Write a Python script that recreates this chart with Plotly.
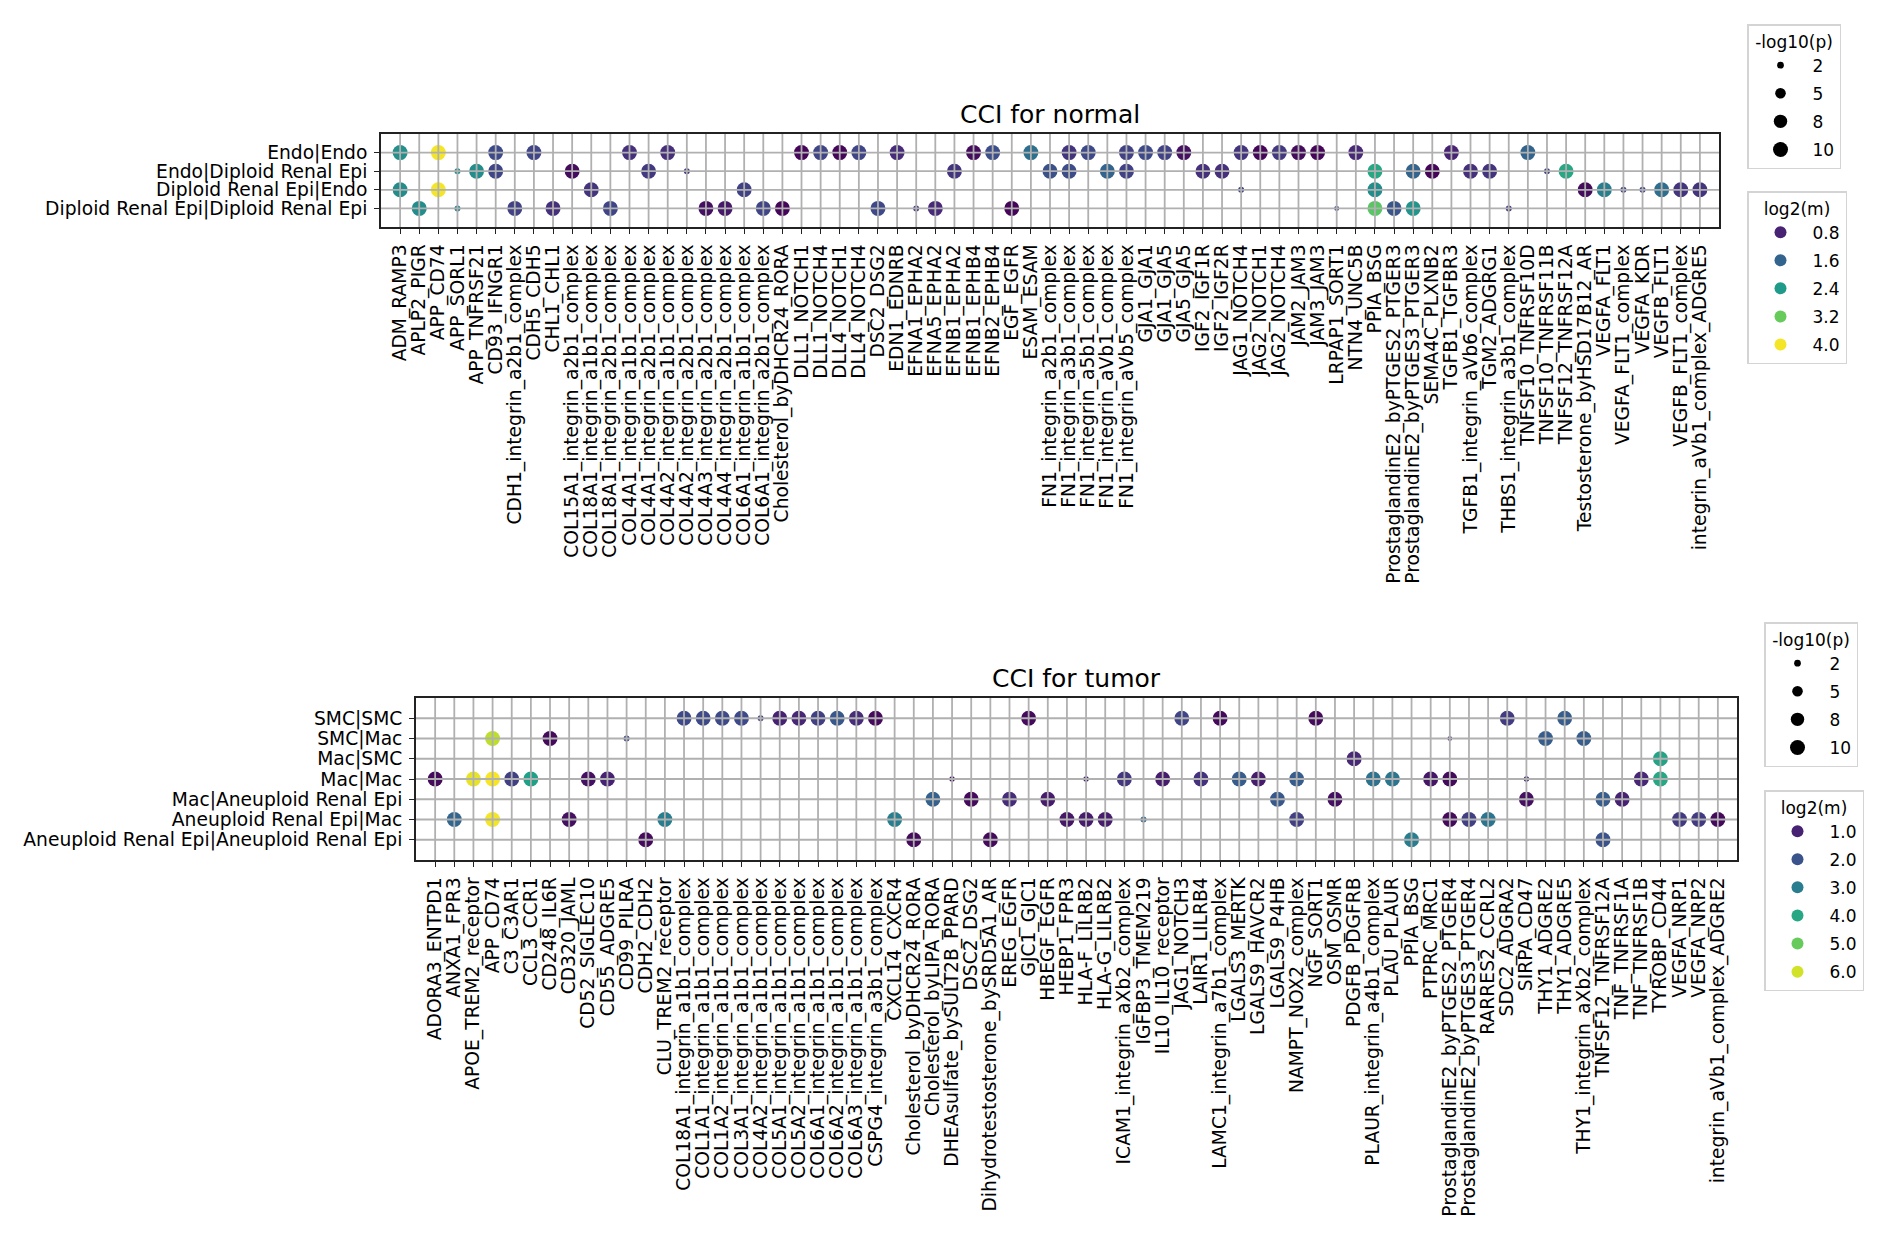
import math
import plotly.graph_objects as go
from plotly.colors import sample_colorscale

# ---------------- normal ----------------
normal_pairs = ["Endo|Endo", "Endo|Diploid Renal Epi", "Diploid Renal Epi|Endo",
                "Diploid Renal Epi|Diploid Renal Epi"]
normal_lr = ["ADM_RAMP3", "APLP2_PIGR", "APP_CD74", "APP_SORL1", "APP_TNFRSF21", "CD93_IFNGR1",
             "CDH1_integrin_a2b1_complex", "CDH5_CDH5", "CHL1_CHL1", "COL15A1_integrin_a2b1_complex",
             "COL18A1_integrin_a1b1_complex", "COL18A1_integrin_a2b1_complex", "COL4A1_integrin_a1b1_complex",
             "COL4A1_integrin_a2b1_complex", "COL4A2_integrin_a1b1_complex", "COL4A2_integrin_a2b1_complex",
             "COL4A3_integrin_a2b1_complex", "COL4A4_integrin_a2b1_complex", "COL6A1_integrin_a1b1_complex",
             "COL6A1_integrin_a2b1_complex", "Cholesterol_byDHCR24_RORA", "DLL1_NOTCH1", "DLL1_NOTCH4",
             "DLL4_NOTCH1", "DLL4_NOTCH4", "DSC2_DSG2", "EDN1_EDNRB", "EFNA1_EPHA2", "EFNA5_EPHA2",
             "EFNB1_EPHA2", "EFNB1_EPHB4", "EFNB2_EPHB4", "EGF_EGFR", "ESAM_ESAM",
             "FN1_integrin_a2b1_complex", "FN1_integrin_a3b1_complex", "FN1_integrin_a5b1_complex",
             "FN1_integrin_aVb1_complex", "FN1_integrin_aVb5_complex", "GJA1_GJA1", "GJA1_GJA5", "GJA5_GJA5",
             "IGF2_IGF1R", "IGF2_IGF2R", "JAG1_NOTCH4", "JAG2_NOTCH1", "JAG2_NOTCH4", "JAM2_JAM3", "JAM3_JAM3",
             "LRPAP1_SORT1", "NTN4_UNC5B", "PPIA_BSG", "ProstaglandinE2_byPTGES2_PTGER3",
             "ProstaglandinE2_byPTGES3_PTGER3", "SEMA4C_PLXNB2", "TGFB1_TGFBR3", "TGFB1_integrin_aVb6_complex",
             "TGM2_ADGRG1", "THBS1_integrin_a3b1_complex", "TNFSF10_TNFRSF10D", "TNFSF10_TNFRSF11B",
             "TNFSF12_TNFRSF12A", "Testosterone_byHSD17B12_AR", "VEGFA_FLT1", "VEGFA_FLT1_complex",
             "VEGFA_KDR", "VEGFB_FLT1", "VEGFB_FLT1_complex", "integrin_aVb1_complex_ADGRE5"]

normal_x = [
    # Endo|Endo
    "ADM_RAMP3", "APP_CD74", "CD93_IFNGR1", "CDH5_CDH5", "COL4A1_integrin_a1b1_complex",
    "COL4A2_integrin_a1b1_complex", "DLL1_NOTCH1", "DLL1_NOTCH4", "DLL4_NOTCH1", "DLL4_NOTCH4",
    "EDN1_EDNRB", "EFNB1_EPHB4", "EFNB2_EPHB4", "ESAM_ESAM", "FN1_integrin_a3b1_complex",
    "FN1_integrin_a5b1_complex", "FN1_integrin_aVb5_complex", "GJA1_GJA1", "GJA1_GJA5", "GJA5_GJA5",
    "JAG1_NOTCH4", "JAG2_NOTCH1", "JAG2_NOTCH4", "JAM2_JAM3", "JAM3_JAM3", "NTN4_UNC5B",
    "TGFB1_TGFBR3", "TNFSF10_TNFRSF10D",
    # Endo|Diploid Renal Epi
    "APP_SORL1", "APP_TNFRSF21", "CD93_IFNGR1", "COL15A1_integrin_a2b1_complex",
    "COL4A1_integrin_a2b1_complex", "COL4A2_integrin_a2b1_complex", "EFNB1_EPHA2",
    "FN1_integrin_a2b1_complex", "FN1_integrin_a3b1_complex", "FN1_integrin_aVb1_complex",
    "FN1_integrin_aVb5_complex", "IGF2_IGF1R", "IGF2_IGF2R", "PPIA_BSG",
    "ProstaglandinE2_byPTGES3_PTGER3", "SEMA4C_PLXNB2", "TGFB1_integrin_aVb6_complex", "TGM2_ADGRG1",
    "TNFSF10_TNFRSF11B", "TNFSF12_TNFRSF12A",
    # Diploid Renal Epi|Endo
    "ADM_RAMP3", "APP_CD74", "COL18A1_integrin_a1b1_complex", "COL6A1_integrin_a1b1_complex",
    "JAG1_NOTCH4", "PPIA_BSG", "Testosterone_byHSD17B12_AR", "VEGFA_FLT1", "VEGFA_FLT1_complex",
    "VEGFA_KDR", "VEGFB_FLT1", "VEGFB_FLT1_complex", "integrin_aVb1_complex_ADGRE5",
    # Diploid Renal Epi|Diploid Renal Epi
    "APLP2_PIGR", "APP_SORL1", "CDH1_integrin_a2b1_complex", "CHL1_CHL1",
    "COL18A1_integrin_a2b1_complex", "COL4A3_integrin_a2b1_complex", "COL4A4_integrin_a2b1_complex",
    "COL6A1_integrin_a2b1_complex", "Cholesterol_byDHCR24_RORA", "DSC2_DSG2", "EFNA1_EPHA2",
    "EFNA5_EPHA2", "EGF_EGFR", "LRPAP1_SORT1", "PPIA_BSG", "ProstaglandinE2_byPTGES2_PTGER3",
    "ProstaglandinE2_byPTGES3_PTGER3", "THBS1_integrin_a3b1_complex",
]
normal_y = (["Endo|Endo"] * 28 + ["Endo|Diploid Renal Epi"] * 20 + ["Diploid Renal Epi|Endo"] * 13
            + ["Diploid Renal Epi|Diploid Renal Epi"] * 18)
normal_logp = [
    10, 10, 10, 10, 10, 10, 10, 10, 10, 10, 10, 10, 10, 10, 10, 10, 10, 10, 10, 10, 10, 10, 10, 10, 10, 10, 10, 10,
    1.6, 10, 10, 10, 10, 1.6, 10, 10, 10, 10, 10, 10, 10, 10, 10, 10, 10, 10, 1.6, 10,
    10, 10, 10, 10, 1.6, 10, 10, 10, 1.6, 1.6, 10, 10, 10,
    10, 1.6, 10, 10, 10, 10, 10, 10, 10, 10, 1.6, 10, 10, 1.1, 10, 10, 10, 1.6,
]
normal_log2m = [
    2.25, 4.0, 1.25, 1.2, 0.95, 0.95, 0.5, 1.2, 0.5, 1.2, 0.9, 0.55, 1.3, 1.75, 1.0, 1.25, 1.15, 1.25,
    1.15, 0.6, 1.0, 0.5, 1.05, 0.55, 0.5, 0.85, 0.8, 1.6,
    2.2, 2.2, 1.2, 0.55, 1.05, 1.1, 1.0, 1.35, 1.3, 1.6, 1.15, 0.95, 0.95, 2.6, 1.6, 0.5, 0.95, 1.0,
    1.2, 2.6,
    2.2, 4.0, 1.0, 1.15, 1.2, 2.2, 0.55, 2.0, 1.2, 1.2, 1.75, 1.0, 1.0,
    2.2, 2.0, 1.15, 0.95, 1.2, 0.6, 0.7, 1.2, 0.5, 1.25, 1.1, 0.85, 0.5, 1.2, 3.1, 1.4, 2.3, 1.0,
]

# ---------------- tumor ----------------
tumor_pairs = ["SMC|SMC", "SMC|Mac", "Mac|SMC", "Mac|Mac", "Mac|Aneuploid Renal Epi",
               "Aneuploid Renal Epi|Mac", "Aneuploid Renal Epi|Aneuploid Renal Epi"]
tumor_lr = ["ADORA3_ENTPD1", "ANXA1_FPR3", "APOE_TREM2_receptor", "APP_CD74", "C3_C3AR1", "CCL3_CCR1",
            "CD248_IL6R", "CD320_JAML", "CD52_SIGLEC10", "CD55_ADGRE5", "CD99_PILRA", "CDH2_CDH2",
            "CLU_TREM2_receptor", "COL18A1_integrin_a1b1_complex", "COL1A1_integrin_a1b1_complex",
            "COL1A2_integrin_a1b1_complex", "COL3A1_integrin_a1b1_complex", "COL4A2_integrin_a1b1_complex",
            "COL5A1_integrin_a1b1_complex", "COL5A2_integrin_a1b1_complex", "COL6A1_integrin_a1b1_complex",
            "COL6A2_integrin_a1b1_complex", "COL6A3_integrin_a1b1_complex", "CSPG4_integrin_a3b1_complex",
            "CXCL14_CXCR4", "Cholesterol_byDHCR24_RORA", "Cholesterol_byLIPA_RORA",
            "DHEAsulfate_bySULT2B_PPARD", "DSC2_DSG2", "Dihydrotestosterone_bySRD5A1_AR", "EREG_EGFR",
            "GJC1_GJC1", "HBEGF_EGFR", "HEBP1_FPR3", "HLA-F_LILRB2", "HLA-G_LILRB2",
            "ICAM1_integrin_aXb2_complex", "IGFBP3_TMEM219", "IL10_IL10_receptor", "JAG1_NOTCH3",
            "LAIR1_LILRB4", "LAMC1_integrin_a7b1_complex", "LGALS3_MERTK", "LGALS9_HAVCR2", "LGALS9_P4HB",
            "NAMPT_NOX2_complex", "NGF_SORT1", "OSM_OSMR", "PDGFB_PDGFRB", "PLAUR_integrin_a4b1_complex",
            "PLAU_PLAUR", "PPIA_BSG", "PTPRC_MRC1", "ProstaglandinE2_byPTGES2_PTGER4",
            "ProstaglandinE2_byPTGES3_PTGER4", "RARRES2_CCRL2", "SDC2_ADGRA2", "SIRPA_CD47", "THY1_ADGRE2",
            "THY1_ADGRE5", "THY1_integrin_aXb2_complex", "TNFSF12_TNFRSF12A", "TNF_TNFRSF1A",
            "TNF_TNFRSF1B", "TYROBP_CD44", "VEGFA_NRP1", "VEGFA_NRP2", "integrin_aVb1_complex_ADGRE2"]

tumor_x = [
    # SMC|SMC
    "COL18A1_integrin_a1b1_complex", "COL1A1_integrin_a1b1_complex", "COL1A2_integrin_a1b1_complex",
    "COL3A1_integrin_a1b1_complex", "COL4A2_integrin_a1b1_complex", "COL5A1_integrin_a1b1_complex",
    "COL5A2_integrin_a1b1_complex", "COL6A1_integrin_a1b1_complex", "COL6A2_integrin_a1b1_complex",
    "COL6A3_integrin_a1b1_complex", "CSPG4_integrin_a3b1_complex", "GJC1_GJC1", "JAG1_NOTCH3",
    "LAMC1_integrin_a7b1_complex", "NGF_SORT1", "SDC2_ADGRA2", "THY1_ADGRE5",
    # SMC|Mac
    "APP_CD74", "CD248_IL6R", "CD99_PILRA", "ProstaglandinE2_byPTGES2_PTGER4", "THY1_ADGRE2",
    "THY1_integrin_aXb2_complex",
    # Mac|SMC
    "PDGFB_PDGFRB", "TYROBP_CD44",
    # Mac|Mac
    "ADORA3_ENTPD1", "APOE_TREM2_receptor", "APP_CD74", "C3_C3AR1", "CCL3_CCR1", "CD52_SIGLEC10",
    "CD55_ADGRE5", "DHEAsulfate_bySULT2B_PPARD", "HLA-F_LILRB2", "ICAM1_integrin_aXb2_complex",
    "IL10_IL10_receptor", "LAIR1_LILRB4", "LGALS3_MERTK", "LGALS9_HAVCR2", "NAMPT_NOX2_complex",
    "PLAUR_integrin_a4b1_complex", "PLAU_PLAUR", "PTPRC_MRC1", "ProstaglandinE2_byPTGES2_PTGER4",
    "SIRPA_CD47", "TNF_TNFRSF1B", "TYROBP_CD44",
    # Mac|Aneuploid Renal Epi
    "Cholesterol_byLIPA_RORA", "DSC2_DSG2", "EREG_EGFR", "HBEGF_EGFR", "LGALS9_P4HB", "OSM_OSMR",
    "SIRPA_CD47", "TNFSF12_TNFRSF12A", "TNF_TNFRSF1A",
    # Aneuploid Renal Epi|Mac
    "ANXA1_FPR3", "APP_CD74", "CD320_JAML", "CLU_TREM2_receptor", "CXCL14_CXCR4", "HEBP1_FPR3",
    "HLA-F_LILRB2", "HLA-G_LILRB2", "IGFBP3_TMEM219", "NAMPT_NOX2_complex",
    "ProstaglandinE2_byPTGES2_PTGER4", "ProstaglandinE2_byPTGES3_PTGER4", "RARRES2_CCRL2", "VEGFA_NRP1",
    "VEGFA_NRP2", "integrin_aVb1_complex_ADGRE2",
    # Aneuploid Renal Epi|Aneuploid Renal Epi
    "CDH2_CDH2", "Cholesterol_byDHCR24_RORA", "Dihydrotestosterone_bySRD5A1_AR", "PPIA_BSG",
    "TNFSF12_TNFRSF12A",
]
tumor_y = (["SMC|SMC"] * 17 + ["SMC|Mac"] * 6 + ["Mac|SMC"] * 2 + ["Mac|Mac"] * 22
           + ["Mac|Aneuploid Renal Epi"] * 9 + ["Aneuploid Renal Epi|Mac"] * 16
           + ["Aneuploid Renal Epi|Aneuploid Renal Epi"] * 5)
tumor_logp = [
    10, 10, 10, 10, 1.6, 10, 10, 10, 10, 10, 10, 10, 10, 10, 10, 10, 10,
    10, 10, 1.6, 1.0, 10, 10,
    10, 10,
    10, 10, 10, 10, 10, 10, 10, 1.3, 1.3, 10, 10, 10, 10, 10, 10, 10, 10, 10, 10, 1.3, 10, 10,
    10, 10, 10, 10, 10, 10, 10, 10, 10,
    10, 10, 10, 10, 10, 10, 10, 10, 1.6, 10, 10, 10, 10, 10, 10, 10,
    10, 10, 10, 10, 10,
]
tumor_log2m = [
    1.8, 1.8, 1.8, 1.8, 1.6, 1.0, 1.1, 1.6, 2.1, 1.2, 0.6, 0.6, 1.7, 0.6, 0.6, 1.5, 2.2,
    5.8, 0.6, 1.7, 1.0, 2.2, 2.2,
    1.1, 3.9,
    0.6, 6.2, 6.35, 1.6, 3.8, 0.7, 1.0, 0.8, 1.0, 1.4, 0.9, 1.3, 2.2, 0.9, 2.2, 2.7, 2.8, 0.8, 0.6,
    1.0, 1.1, 4.0,
    2.3, 0.6, 1.2, 0.9, 2.1, 0.7, 0.7, 2.2, 1.0,
    2.4, 6.3, 0.7, 3.0, 3.0, 0.8, 0.9, 0.9, 2.4, 1.6, 0.6, 1.6, 2.8, 1.5, 1.5, 0.6,
    0.6, 0.6, 0.6, 3.0, 2.0,
]

size_ticks = [2, 5, 8, 10]
normal_color_ticks = [0.8, 1.6, 2.4, 3.2, 4.0]
tumor_color_ticks = [1.0, 2.0, 3.0, 4.0, 5.0, 6.0]
normal_crange = (0.45, 4.05)
tumor_crange = (0.45, 6.4)

FONT = "DejaVu Sans"
GRID = "#b0b0b0"
W, H = 1890, 1241


def dot_size(p):
    return 4.74 * math.sqrt(p)


def vcolor(v, crange):
    return sample_colorscale("Viridis", [(v - crange[0]) / (crange[1] - crange[0])])[0]


fig = go.Figure()

panels = [
    dict(sfx="", pairs=normal_pairs, lrs=normal_lr, xs=normal_x, ys=normal_y, ps=normal_logp,
         ms=normal_log2m, cr=normal_crange, cticks=normal_color_ticks, title="CCI for normal",
         box=(381, 1719, 134, 227), legs=("legend", "legend2"), leg_x=1747, leg_y=(24, 191)),
    dict(sfx="2", pairs=tumor_pairs, lrs=tumor_lr, xs=tumor_x, ys=tumor_y, ps=tumor_logp,
         ms=tumor_log2m, cr=tumor_crange, cticks=tumor_color_ticks, title="CCI for tumor",
         box=(416, 1737, 698, 860), legs=("legend3", "legend4"), leg_x=1764, leg_y=(622, 790)),
]

shapes = []
annotations = []
layout = {}
for pn in panels:
    sfx = pn["sfx"]
    x0, x1, y0, y1 = pn["box"]
    xdom = [x0 / W, x1 / W]
    ydom = [1 - y1 / H, 1 - y0 / H]
    cr = pn["cr"]
    fig.add_trace(go.Scatter(
        x=pn["xs"], y=pn["ys"], mode="markers", xaxis="x" + sfx, yaxis="y" + sfx, showlegend=False,
        marker=dict(size=[dot_size(p) for p in pn["ps"]], color=pn["ms"], colorscale="Viridis",
                    cmin=cr[0], cmax=cr[1], line=dict(width=0), opacity=1),
    ))
    axis_common = dict(type="category", showgrid=False, zeroline=False, showline=True, mirror=True,
                       linecolor="#222222", linewidth=1.8, ticks="outside", ticklen=5, tickwidth=1.4,
                       tickcolor="#222222", tickfont=dict(family=FONT, size=18.7, color="black"),
                       tickmode="linear", tick0=0, dtick=1, ticklabelstandoff=3)
    layout["xaxis" + sfx] = dict(axis_common, domain=xdom, anchor="y" + sfx, categoryorder="array",
                                 categoryarray=pn["lrs"], range=[-1, len(pn["lrs"])], tickangle=-90)
    layout["yaxis" + sfx] = dict(axis_common, domain=ydom, anchor="x" + sfx, categoryorder="array",
                                 categoryarray=pn["pairs"], range=[len(pn["pairs"]), -1])
    # grid drawn over the dots, like the reference
    for i in range(len(pn["lrs"])):
        shapes.append(dict(type="line", xref="x" + sfx, yref="y" + sfx + " domain", x0=i, x1=i, y0=0, y1=1,
                           line=dict(color=GRID, width=1.8), layer="above"))
    for j in range(len(pn["pairs"])):
        shapes.append(dict(type="line", xref="x" + sfx + " domain", yref="y" + sfx, x0=0, x1=1, y0=j, y1=j,
                           line=dict(color=GRID, width=1.8), layer="above"))
    annotations.append(dict(text=pn["title"], xref="paper", yref="paper", x=(xdom[0] + xdom[1]) / 2,
                            y=ydom[1], xanchor="center", yanchor="bottom", yshift=3, showarrow=False,
                            font=dict(family=FONT, size=25, color="black")))

    legs = pn["legs"]
    # size legend
    for k, v in enumerate(size_ticks):
        fig.add_trace(go.Scatter(x=[None], y=[None], mode="markers", xaxis="x" + sfx, yaxis="y" + sfx,
                                 name=str(v), legend=legs[0], legendgroup=legs[0] + str(k),
                                 marker=dict(size=dot_size(v), color="black")))
    # colour legend
    for k, v in enumerate(pn["cticks"]):
        fig.add_trace(go.Scatter(x=[None], y=[None], mode="markers", xaxis="x" + sfx, yaxis="y" + sfx,
                                 name="%.1f" % v, legend=legs[1], legendgroup=legs[1] + str(k),
                                 marker=dict(size=12, color=vcolor(v, cr))))
    for leg, title_txt, top in [(legs[0], "-log10(p)", pn["leg_y"][0]), (legs[1], "log2(m)", pn["leg_y"][1])]:
        layout[leg] = dict(x=pn["leg_x"] / W, y=1 - top / H, xanchor="left", yanchor="top", bgcolor="white",
                           bordercolor="#d4d4d4", borderwidth=1.5, tracegroupgap=3, itemwidth=54,
                           font=dict(family=FONT, size=17, color="black"),
                           title=dict(text=title_txt, side="top center",
                                      font=dict(family=FONT, size=17, color="black")))

fig.update_layout(**layout)
fig.update_layout(width=W, height=H, autosize=False, margin=dict(l=0, r=0, t=0, b=0),
                  plot_bgcolor="white", paper_bgcolor="white", shapes=shapes, annotations=annotations,
                  font=dict(family=FONT, color="black"))
fig.write_html("out.html", config={"displayModeBar": False},
               post_script="document.body.style.margin = '0px';")
